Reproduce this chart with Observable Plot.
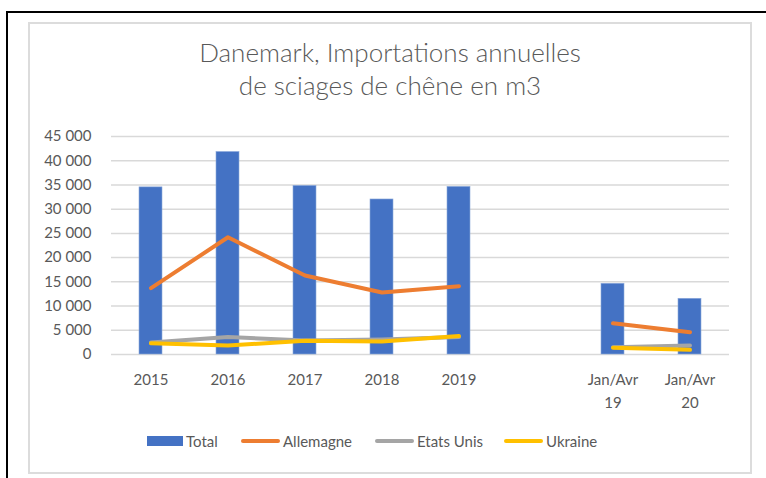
<!DOCTYPE html>
<html>
<head>
<meta charset="utf-8">
<script src="https://cdn.jsdelivr.net/npm/d3@7"></script>
<script src="https://cdn.jsdelivr.net/npm/@observablehq/plot@0.6"></script>
<style>
  html, body { margin: 0; padding: 0; background: #fff; width: 766px; height: 478px; overflow: hidden; font-family: Lato, "Open Sans", sans-serif; }
  #outer { position: absolute; left: 6px; top: 11px; width: 900px; height: 600px; border-left: 2px solid #000; border-top: 2px solid #000; }
  #box { position: absolute; left: 28px; top: 22px; width: 720px; height: 448px; border: 2px solid #dcdcdc; }
  #title { position: absolute; left: 28px; top: 36px; width: 724px; text-align: center; color: #595959; font-size: 26px; font-weight: 300; line-height: 33px; }
  #chart { position: absolute; left: 0; top: 120px; }
  #legend { position: absolute; top: 431px; left: 0; width: 766px; height: 20px; color: #595959; font-size: 15px; }
  .item { position: absolute; top: 0; display: flex; align-items: center; height: 20px; }
  .sw { display: inline-block; margin-right: 3px; }
</style>
</head>
<body>
<div id="outer"></div>
<div id="box"></div>
<div id="title">Danemark, Importations annuelles<br>de sciages de chêne en m3</div>
<div id="chart"></div>
<div id="legend"></div>
<script>
const categories = ["2015", "2016", "2017", "2018", "2019", "", "Jan/Avr 19", "Jan/Avr 20"];
const tickLabels = ["2015", "2016", "2017", "2018", "2019", "", "Jan/Avr\n19", "Jan/Avr\n20"];
const total     = [34500, 41800, 34800, 32000, 34600, null, 14600, 11500];
const allemagne = [13700, 24200, 16300, 12800, 14100, null, 6450, 4600];
const etatsUnis = [2500, 3600, 2900, 3100, 3600, null, 1500, 1850];
const ukraine   = [2300, 1850, 2850, 2700, 3800, null, 1380, 960];
const yTicks = [0, 5000, 10000, 15000, 20000, 25000, 30000, 35000, 40000, 45000];
const seriesNames = ["Total", "Allemagne", "Etats Unis", "Ukraine"];
const seriesColors = ["#4472C4", "#ED7D31", "#A5A5A5", "#FFC000"];

const bars = categories.map((c, i) => ({cat: c, value: total[i]})).filter(d => d.value != null);
const lineSeries = [["Allemagne", allemagne], ["Etats Unis", etatsUnis], ["Ukraine", ukraine]];
const lines = lineSeries.flatMap(([name, vals]) => categories.map((c, i) => ({cat: c, series: name, value: vals[i]})));

const fmt = d => String(d).replace(/\B(?=(\d{3})+(?!\d))/g, " ");

const chart = Plot.plot({
  width: 766,
  height: 300,
  marginLeft: 111,
  marginRight: 37,
  marginTop: 16,
  marginBottom: 66,
  style: {fontFamily: "Lato, 'Open Sans', sans-serif", fontSize: "15px", color: "#595959", background: "transparent"},
  x: {domain: categories, paddingInner: 0.7, paddingOuter: 0.35, axis: null},
  y: {domain: [0, 45000], axis: null},
  color: {domain: seriesNames, range: seriesColors},
  marks: [
    Plot.ruleY(yTicks, {stroke: "#d9d9d9", strokeWidth: 1.5}),
    Plot.text(yTicks, {y: d => d, text: d => fmt(d), frameAnchor: "left", textAnchor: "end", dx: -20, fill: "#595959", fontSize: 15}),
    Plot.barY(bars, {x: "cat", y: "value", fill: "#4472C4", stroke: "#8eaadb", strokeWidth: 0.6}),
    ...lineSeries.map(([name]) => Plot.line(lines.filter(d => d.series === name), {x: "cat", y: "value", stroke: seriesColors[seriesNames.indexOf(name)], strokeWidth: 4, strokeLinecap: "round", strokeLinejoin: "round"})),
    Plot.text(categories, {x: d => d, text: (d, i) => tickLabels[i], frameAnchor: "bottom", lineAnchor: "top", dy: 15, lineHeight: 1.5, fill: "#595959", fontSize: 15})
  ]
});
document.getElementById("chart").appendChild(chart);

const legendPos = [
  {name: "Total", x: 147, kind: "rect"},
  {name: "Allemagne", x: 241, kind: "line"},
  {name: "Etats Unis", x: 375, kind: "line"},
  {name: "Ukraine", x: 504, kind: "line"}
];
const legend = document.getElementById("legend");
legendPos.forEach(p => {
  const color = seriesColors[seriesNames.indexOf(p.name)];
  const item = document.createElement("div");
  item.className = "item";
  item.style.left = p.x + "px";
  const sw = document.createElement("span");
  sw.className = "sw";
  sw.style.width = (p.kind === "rect" ? 36 : 39) + "px";
  sw.style.height = (p.kind === "rect" ? 10 : 4) + "px";
  sw.style.background = color;
  if (p.kind === "line") sw.style.borderRadius = "2px";
  item.appendChild(sw);
  const t = document.createElement("span");
  t.textContent = p.name;
  item.appendChild(t);
  legend.appendChild(item);
});
</script>
</body>
</html>
